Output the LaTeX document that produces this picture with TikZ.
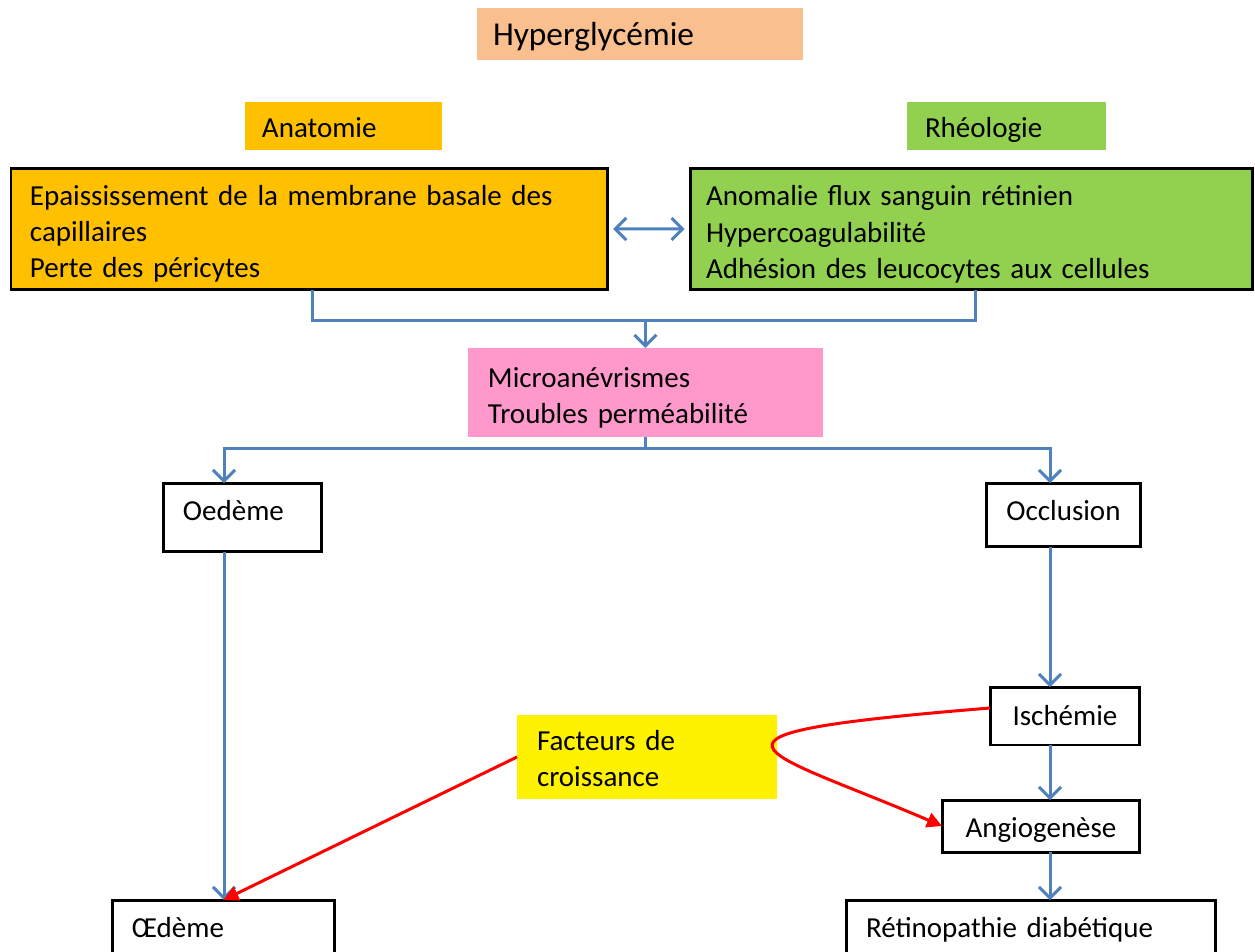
\documentclass[tikz,border=0pt]{standalone}
\usepackage{fontspec}
\setmainfont{Carlito}
\usetikzlibrary{arrows.meta,positioning}
\definecolor{peach}{HTML}{F9BF8F}
\definecolor{anatorange}{HTML}{FFC000}
\definecolor{rheogreen}{HTML}{92D050}
\definecolor{micropink}{HTML}{FF99CC}
\definecolor{linkblue}{HTML}{4F81BD}

\begin{document}
\begin{tikzpicture}[x=0.02cm,y=-0.02cm,
		font=\fontsize{16.5}{20.5}\selectfont,
		box/.style={anchor=north west,inner ysep=0pt,outer sep=0pt,align=left},
		framed/.style={box,draw=black,line width=0.06cm},
		stage/.style={framed,align=center,inner xsep=0pt},
		bluelink/.style={draw=linkblue,line width=0.06cm},
		bluearrow/.style={bluelink,-{Straight Barb[length=0.22cm,width=0.44cm]}},
		redarrow/.style={draw=red,line width=0.06cm,-{Triangle[length=0.3cm,width=0.3cm]}}]
	\useasboundingbox (0,0) rectangle (1255,951);

	\node[box,fill=peach,font=\fontsize{19}{20}\selectfont,text width=5.88cm,text height=0.76cm,text depth=0.28cm,inner xsep=0.32cm] (hyper) at (477,8) {Hyperglycémie};
	\node[box,fill=anatorange,text width=3.26cm,text height=0.72cm,text depth=0.24cm,inner xsep=0.34cm] (anat) at (245,102) {Anatomie};
	\node[box,fill=rheogreen,text width=3.26cm,text height=0.72cm,text depth=0.24cm,inner xsep=0.36cm] (rheo) at (907,102) {Rhéologie};

	\node[framed,fill=anatorange,text width=11.18cm,text height=0.74cm,text depth=1.70cm,inner xsep=0.38cm] (anatbox) at (11,168) {Epaississement de la membrane basale des\\capillaires\\Perte des péricytes};
	\node[framed,fill=rheogreen,text width=10.62cm,text height=0.76cm,text depth=1.68cm,inner xsep=0.32cm] (rheobox) at (690,168) {Anomalie flux sanguin rétinien\\Hypercoagulabilité\\Adhésion des leucocytes aux cellules};

	\node[box,fill=micropink,text width=6.3cm,text height=0.78cm,text depth=1.0cm,inner xsep=0.4cm] (micro) at (468,348) {Microanévrismes\\Troubles perméabilité};

	\node[framed,text width=2.38cm,text height=0.74cm,text depth=0.64cm,inner xsep=0.4cm] (oed1) at (163,483) {Oedème};
	\node[stage,text width=3.1cm,text height=0.74cm,text depth=0.54cm] (occl) at (986,483) {Occlusion};
	\node[stage,text width=3.0cm,text height=0.76cm,text depth=0.40cm] (isch) at (990,687) {Ischémie};
	\node[stage,text width=3.96cm,text height=0.74cm,text depth=0.30cm] (angio) at (942,800) {Angiogenèse};
	\node[framed,text width=6.6cm,text height=0.74cm,text depth=0.56cm,inner xsep=0.4cm] (retino) at (846,900) {Rétinopathie diabétique};
	\node[framed,text width=3.66cm,text height=0.74cm,text depth=0.56cm,inner xsep=0.4cm] (oed2) at (112,900) {Œdème};

	\node[box,fill=yellow,text width=4.4cm,text height=0.7cm,text depth=0.98cm,inner xsep=0.4cm] (fact) at (517,715) {Facteurs de\\croissance};

	\coordinate (ja) at (312,320);
	\coordinate (jr) at (975,320);
	\coordinate (jo) at (224,448);
	\coordinate (jc) at (1050,448);

	\draw[bluelink,{Straight Barb[length=0.22cm,width=0.44cm]}-{Straight Barb[length=0.22cm,width=0.44cm]},shorten <=3pt,shorten >=3pt] (anatbox.east) -- (rheobox.west);
	\draw[bluelink] (anatbox.south -| ja) -- (ja) -- (jr) -- (rheobox.south -| jr);
	\draw[bluearrow] (micro.north |- ja) -- (micro.north);
	\draw[bluearrow] (micro.south) -- (micro.south |- jo) -| (oed1.north -| jo);
	\draw[bluearrow] (micro.south |- jo) -| (occl.north -| jc);
	\draw[bluearrow] (oed1.south -| jo) -- (oed2.north -| jo);
	\draw[bluearrow] (occl.south -| jc) -- (isch.north -| jc);
	\draw[bluearrow] (isch.south -| jc) -- (angio.north -| jc);
	\draw[bluearrow] (angio.south -| jc) -- (retino.north -| jc);

	\draw[redarrow] ([yshift=0.16cm]isch.west) .. controls (660,735) and (760,748) .. (angio.west);
	\draw[redarrow] (fact.west) -- (oed2.north);
\end{tikzpicture}
\end{document}
